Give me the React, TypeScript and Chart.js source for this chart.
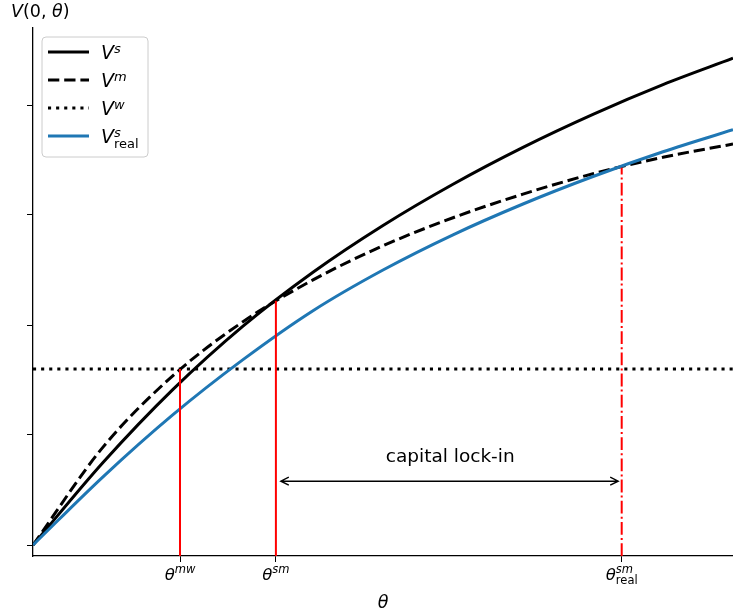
import { useEffect, useRef } from 'react';
import { Chart, registerables } from 'chart.js';
Chart.register(...registerables);

// ---- data ----
const theta = [0, 1, 2, 3, 4, 5, 6, 7, 8, 9, 10];
const Vs = [0, 0.75, 1.415, 1.99, 2.48, 2.905, 3.28, 3.615, 3.915, 4.185, 4.425];
const Vm = [0, 0.89, 1.54, 2.03, 2.41, 2.72, 2.975, 3.19, 3.375, 3.525, 3.645];
const VsReal = [0, 0.62, 1.185, 1.685, 2.13, 2.5, 2.82, 3.1, 3.35, 3.575, 3.775];
const VwLevel = 1.6;
const thetaRange = [0, 10];
const yRange = [-0.1, 4.7];
const yTicks = [0, 1, 2, 3, 4];
const thetaTicks = [2.1, 3.47, 8.41];
const tickSup = ['mw', 'sm', 'sm'];
const tickSub = ['', '', 'real'];
const markTops = [1.6, 2.22, 3.43];
const markDashed = [false, false, true];
const arrowRange = [3.54, 8.36];
const arrowLevel = 0.58;
const annotationText = 'capital lock-in';
const annotationPos = [5.96, 0.8];
const legendSup = ['s', 'm', 'w', 's'];
const legendSub = ['', '', '', 'real'];

const FONT = '"DejaVu Sans"';
const BLUE = '#1f77b4';
const RED = '#ff0000';

type Seg = { t: string; font: string; dy: number; sub?: { t: string; font: string; dy: number } };

function segsWidth(ctx: CanvasRenderingContext2D, segs: Seg[]) {
  let w = 0;
  for (const s of segs) {
    ctx.font = s.font;
    let sw = ctx.measureText(s.t).width;
    if (s.sub) {
      ctx.font = s.sub.font;
      sw = Math.max(sw, ctx.measureText(s.sub.t).width);
    }
    w += sw;
  }
  return w;
}

function drawSegs(ctx: CanvasRenderingContext2D, segs: Seg[], x: number, y: number) {
  ctx.textAlign = 'left';
  ctx.textBaseline = 'alphabetic';
  for (const s of segs) {
    ctx.font = s.font;
    ctx.fillText(s.t, x, y + s.dy);
    let sw = ctx.measureText(s.t).width;
    if (s.sub) {
      ctx.font = s.sub.font;
      ctx.fillText(s.sub.t, x, y + s.sub.dy);
      sw = Math.max(sw, ctx.measureText(s.sub.t).width);
    }
    x += sw;
  }
}

const overlay = {
  id: 'overlay',
  afterDraw(chart: any) {
    const ctx: CanvasRenderingContext2D = chart.ctx;
    const xs = chart.scales.x;
    const ys = chart.scales.y;
    ctx.save();
    ctx.fillStyle = '#000';

    // arrow
    const ax1 = xs.getPixelForValue(arrowRange[0]);
    const ax2 = xs.getPixelForValue(arrowRange[1]);
    const ay = ys.getPixelForValue(arrowLevel);
    ctx.strokeStyle = '#000';
    ctx.lineWidth = 1.4;
    ctx.beginPath();
    ctx.moveTo(ax1, ay);
    ctx.lineTo(ax2, ay);
    ctx.moveTo(ax1 + 8, ay - 4);
    ctx.lineTo(ax1, ay);
    ctx.lineTo(ax1 + 8, ay + 4);
    ctx.moveTo(ax2 - 8, ay - 4);
    ctx.lineTo(ax2, ay);
    ctx.lineTo(ax2 - 8, ay + 4);
    ctx.stroke();

    // annotation
    ctx.font = `18.5px ${FONT}`;
    ctx.textAlign = 'center';
    ctx.textBaseline = 'middle';
    ctx.fillText(annotationText, xs.getPixelForValue(annotationPos[0]), ys.getPixelForValue(annotationPos[1]));

    // x tick labels
    const bottom = chart.chartArea.bottom;
    thetaTicks.forEach((v, i) => {
      const segs: Seg[] = [
        { t: 'θ', font: `italic 16.5px ${FONT}`, dy: 0 },
        {
          t: tickSup[i],
          font: `italic 11.5px ${FONT}`,
          dy: -6.7,
          sub: tickSub[i] ? { t: tickSub[i], font: `11.5px ${FONT}`, dy: 3.5 } : undefined,
        },
      ];
      const w = segsWidth(ctx, segs);
      drawSegs(ctx, segs, xs.getPixelForValue(v) - w / 2, bottom + 24);
    });

    // axis labels
    const yl: Seg[] = [
      { t: 'V', font: `italic 17.5px ${FONT}`, dy: 0 },
      { t: '(0, ', font: `17.5px ${FONT}`, dy: 0 },
      { t: 'θ', font: `italic 17.5px ${FONT}`, dy: 0 },
      { t: ')', font: `17.5px ${FONT}`, dy: 0 },
    ];
    drawSegs(ctx, yl, 11, 16.7);
    const xl: Seg[] = [{ t: 'θ', font: `italic 17.5px ${FONT}`, dy: 0 }];
    const xw = segsWidth(ctx, xl);
    drawSegs(ctx, xl, (chart.chartArea.left + chart.chartArea.right) / 2 - xw / 2, 608);

    // legend
    const lx = 42, ly = 37, lw = 106, lh = 120, r = 4;
    ctx.beginPath();
    ctx.moveTo(lx + r, ly);
    ctx.lineTo(lx + lw - r, ly);
    ctx.arcTo(lx + lw, ly, lx + lw, ly + r, r);
    ctx.lineTo(lx + lw, ly + lh - r);
    ctx.arcTo(lx + lw, ly + lh, lx + lw - r, ly + lh, r);
    ctx.lineTo(lx + r, ly + lh);
    ctx.arcTo(lx, ly + lh, lx, ly + lh - r, r);
    ctx.lineTo(lx, ly + r);
    ctx.arcTo(lx, ly, lx + r, ly, r);
    ctx.closePath();
    ctx.fillStyle = 'rgba(255,255,255,0.8)';
    ctx.fill();
    ctx.strokeStyle = '#cccccc';
    ctx.lineWidth = 1;
    ctx.stroke();

    const rows = [52, 80, 108, 136];
    const styles = [
      { color: '#000', dash: [] as number[] },
      { color: '#000', dash: [11.3, 4.9] },
      { color: '#000', dash: [3.1, 5] },
      { color: BLUE, dash: [] as number[] },
    ];
    rows.forEach((ry, i) => {
      ctx.beginPath();
      ctx.setLineDash(styles[i].dash);
      ctx.strokeStyle = styles[i].color;
      ctx.lineWidth = 3;
      ctx.moveTo(48, ry);
      ctx.lineTo(89, ry);
      ctx.stroke();
      ctx.setLineDash([]);
      ctx.fillStyle = '#000';
      const segs: Seg[] = [
        { t: 'V', font: `italic 19px ${FONT}`, dy: 0 },
        {
          t: legendSup[i],
          font: `italic 13px ${FONT}`,
          dy: -5.5,
          sub: legendSub[i] ? { t: legendSub[i], font: `13px ${FONT}`, dy: 5.5 } : undefined,
        },
      ];
      drawSegs(ctx, segs, 101, ry + 6.5);
    });

    ctx.restore();
  },
};

export default function App() {
  const ref = useRef<HTMLCanvasElement>(null);
  useEffect(() => {
    document.body.style.margin = '0';
    const pts = (ys: number[]) => theta.map((t, i) => ({ x: t, y: ys[i] }));
    const curve = (label: string, data: any, color: string, dash: number[]) => ({
      label,
      data,
      borderColor: color,
      borderWidth: 3,
      borderDash: dash,
      pointRadius: 0,
      fill: false,
      cubicInterpolationMode: 'monotone',
    });
    const marks = thetaTicks.map((t, i) => ({
      label: 'mark' + i,
      data: [
        { x: t, y: yRange[0] },
        { x: t, y: markTops[i] },
      ],
      borderColor: RED,
      borderWidth: 2,
      borderDash: markDashed[i] ? [12.8, 3.2, 2, 3.2] : [],
      pointRadius: 0,
      fill: false,
    }));
    const chart = new Chart(ref.current!, {
      type: 'line',
      data: {
        datasets: [
          ...marks,
          curve('V^s_real', pts(VsReal), BLUE, []),
          curve('V^w', [
            { x: thetaRange[0], y: VwLevel },
            { x: thetaRange[1], y: VwLevel },
          ], '#000', [3.1, 5]),
          curve('V^m', pts(Vm), '#000', [11.3, 4.9]),
          curve('V^s', pts(Vs), '#000', []),
        ] as any,
      },
      options: {
        responsive: false,
        animation: false,
        layout: { padding: { top: 28, left: 0, right: 0, bottom: 0 } },
        plugins: { legend: { display: false }, tooltip: { enabled: false } },
        scales: {
          x: {
            type: 'linear',
            min: thetaRange[0],
            max: thetaRange[1],
            afterBuildTicks: (s: any) => {
              s.ticks = thetaTicks.map((v) => ({ value: v }));
            },
            afterFit: (s: any) => {
              s.height = 59;
            },
            ticks: { display: false },
            grid: { drawOnChartArea: false, drawTicks: true, tickLength: 6, color: '#000', tickColor: '#000', lineWidth: 1 },
            border: { display: true, color: '#000', width: 1.3 },
          },
          y: {
            type: 'linear',
            min: yRange[0],
            max: yRange[1],
            afterBuildTicks: (s: any) => {
              s.ticks = yTicks.map((v) => ({ value: v }));
            },
            afterFit: (s: any) => {
              s.width = 33;
            },
            ticks: { display: false },
            grid: { drawOnChartArea: false, drawTicks: true, tickLength: 6, color: '#000', tickColor: '#000', lineWidth: 1 },
            border: { display: true, color: '#000', width: 1.3 },
          },
        },
      } as any,
      plugins: [overlay],
    });
    return () => chart.destroy();
  }, []);
  return <canvas ref={ref} width={733} height={615} style={{ display: 'block' }} />;
}
